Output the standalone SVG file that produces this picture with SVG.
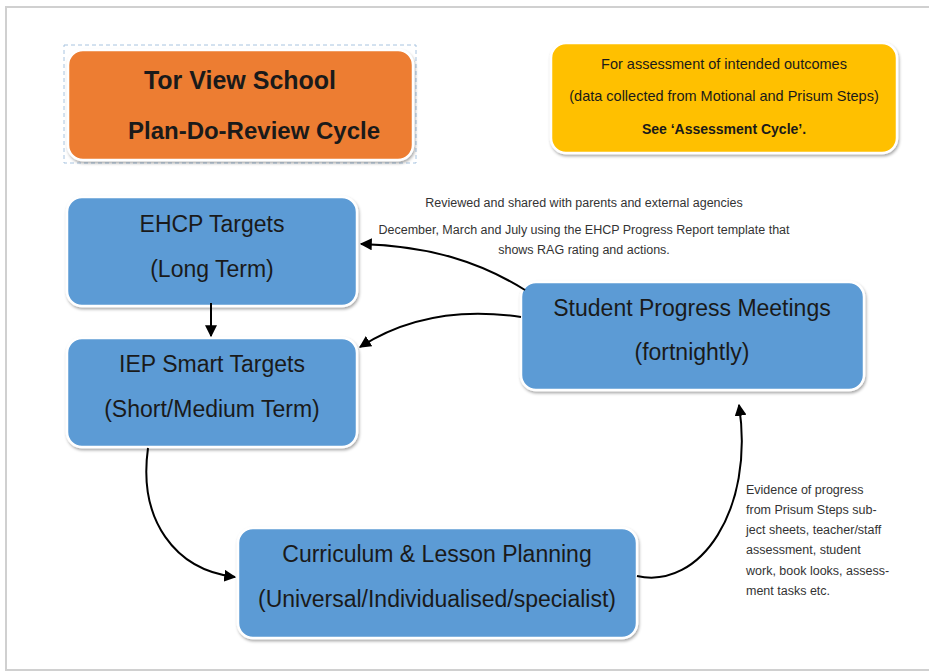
<svg xmlns="http://www.w3.org/2000/svg" width="929" height="672" viewBox="0 0 929 672">
<style>
.box{stroke:#ffffff;stroke-width:2.5;filter:url(#sh)}
.blue{fill:#5B9BD5}
.t{font-family:"Liberation Sans",Arial,sans-serif;fill:#1a1a1a;text-anchor:middle}
.node{font-size:23px}
.ann{font-size:12.5px;fill:#333}
.conn{fill:none;stroke:#000;stroke-width:2}
</style>
<defs>
<filter id="sh" x="-10%" y="-10%" width="120%" height="130%">
<feDropShadow dx="1" dy="2" stdDeviation="1.5" flood-color="#000" flood-opacity="0.35"/>
</filter>
<marker id="ah" viewBox="0 0 10 10" refX="9" refY="5" markerWidth="6" markerHeight="6" orient="auto" markerUnits="strokeWidth">
<path d="M0,0 L10,5 L0,10 z" fill="#000"/>
</marker>
</defs>
<rect x="0" y="0" width="929" height="672" fill="#ffffff"/>
<rect x="6" y="7" width="940" height="663" fill="#ffffff" stroke="#d0d0d0" stroke-width="2"/>

<g id="title">
<rect x="64" y="45" width="352" height="118" fill="none" stroke="#a8c4e0" stroke-width="1" stroke-dasharray="4,3"/>
<rect class="box" x="68" y="50" width="345" height="110" rx="15" fill="#ED7D31"/>
<text class="t" x="240" y="89" font-size="25" font-weight="bold">Tor View School</text>
<text class="t" x="254" y="139" font-size="24" font-weight="bold">Plan-Do-Review Cycle</text>
</g>

<g id="assessment">
<rect class="box" x="551" y="43" width="346" height="110" rx="15" fill="#FFC000"/>
<text class="t" x="724" y="69" font-size="14.5" fill="#333">For assessment of intended outcomes</text>
<text class="t" x="724" y="101" font-size="14.5">(data collected from Motional and Prisum Steps)</text>
<text class="t" x="724" y="134" font-size="14" font-weight="bold">See ‘Assessment Cycle’.</text>
</g>

<g id="ehcp">
<rect class="box blue" x="67" y="197" width="290" height="109" rx="15"/>
<text class="t node" x="212" y="232">EHCP Targets</text>
<text class="t node" x="212" y="277">(Long Term)</text>
</g>

<g id="iep">
<rect class="box blue" x="67" y="338" width="290" height="109" rx="15"/>
<text class="t node" x="212" y="372">IEP Smart Targets</text>
<text class="t node" x="212" y="417">(Short/Medium Term)</text>
</g>

<g id="spm">
<rect class="box blue" x="521" y="282" width="343" height="108" rx="15"/>
<text class="t node" x="692" y="316">Student Progress Meetings</text>
<text class="t node" x="692" y="360">(fortnightly)</text>
</g>

<g id="curriculum">
<rect class="box blue" x="238" y="528" width="399" height="110" rx="15"/>
<text class="t node" x="437" y="562">Curriculum &amp; Lesson Planning</text>
<text class="t node" x="437" y="607">(Universal/Individualised/specialist)</text>
</g>

<g id="labels">
<text class="t ann" x="584" y="207">Reviewed and shared with parents and external agencies</text>
<text class="t ann" x="584" y="234">December, March and July using the EHCP Progress Report template that</text>
<text class="t ann" x="584" y="254">shows RAG rating and actions.</text>
<g font-family="Liberation Sans, Arial, sans-serif" font-size="12.5" fill="#333">
<text x="746" y="494">Evidence of progress</text>
<text x="746" y="514">from Prisum Steps sub-</text>
<text x="746" y="534">ject sheets, teacher/staff</text>
<text x="746" y="554">assessment, student</text>
<text x="746" y="575">work, book looks, assess-</text>
<text x="746" y="595">ment tasks etc.</text>
</g>
</g>

<g id="connectors">
<path class="conn" d="M211 303 L211 336" stroke-width="1.5" marker-end="url(#ah)"/>
<path class="conn" d="M525 290 C480 262 430 246 361 244" marker-end="url(#ah)"/>
<path class="conn" d="M521 317 C460 308 405 318 360 347" marker-end="url(#ah)"/>
<path class="conn" d="M148 448 C138 520 175 570 235 577" marker-end="url(#ah)"/>
<path class="conn" d="M637 576 C700 590 755 510 739 405" marker-end="url(#ah)"/>
</g>
</svg>
